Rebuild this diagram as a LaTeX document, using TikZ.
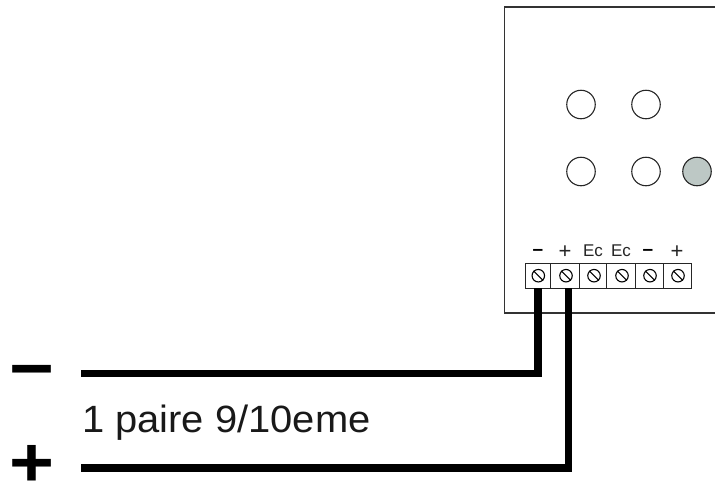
\documentclass[tikz,border=0pt]{standalone}
\usepackage{fontspec}
\setmainfont{Liberation Sans}
\tikzset{
  x=1pt,y=-1pt,
  lamp/.style={circle,draw=black!85,line width=1.1pt,minimum size=28.5pt,inner sep=0pt,fill=white},
  lit/.style={lamp,fill=lampgrey},
  screw/.style={circle,draw=black,line width=1.1pt,minimum size=12.5pt,inner sep=0pt},
  casing/.style={draw=black!80,line width=1.2pt},
  cell/.style={draw=black!85,line width=1pt},
  wire/.style={draw=black,line width=7.3pt,line cap=butt,line join=miter},
  termlabel/.style={inner sep=0pt,anchor=base,font=\fontsize{17}{17}\selectfont,text=black!85},
  termplus/.style={termlabel,font=\fontsize{22}{22}\selectfont},
  termminus/.style={termlabel,font=\fontsize{19}{19}\selectfont\bfseries,text=black},
  bigsign/.style={inner sep=0pt,anchor=base,font=\fontsize{70}{70}\selectfont\bfseries,xscale=1.1},
  caption/.style={inner sep=0pt,anchor=base west,font=\fontsize{38}{38}\selectfont,text=black!90,xscale=1.05}
}
\definecolor{lampgrey}{HTML}{BDC8C5}
\begin{document}
\begin{tikzpicture}
\useasboundingbox (0,0) rectangle (715,483);
\path[fill=white] (0,0) rectangle (715,483);
% casing
\draw[casing] (715,7) -- (504.5,7) -- (504.5,313) -- (715,313);
% lamps
\node[lamp] (l1) at (581,104.5) {};
\node[lamp] (l2) at (646,104.5) {};
\node[lamp] (l3) at (581,171.5) {};
\node[lamp] (l4) at (646,171.5) {};
\node[lit]  (l5) at (697,171.5) {};
% terminal strip
\draw[cell] (525,263.5) rectangle (691.7,288);
\foreach \xx in {550.7,579,606.7,635,663.3} \draw[cell] (\xx,263.5) -- (\xx,288);
\foreach \nm/\xx in {a/538.3,b/566,c/594,d/622,e/650,f/678}{
  \node[screw] (s\nm) at (\xx,275.7) {};
  \draw[line width=1.1pt] (s\nm.north west) -- (s\nm.south east);
}
% terminal labels
\node[termminus] (ta) at (538,255) {–};
\node[termplus] (tb) at (565,258) {+};
\node[termlabel] (tc) at (593,256.5) {Ec};
\node[termlabel] (td) at (621,256.5) {Ec};
\node[termminus] (te) at (648,255) {–};
\node[termplus] (tf) at (677,258) {+};
% wires
\coordinate (wa) at (538,288);
\coordinate (wb) at (568.3,288);
\coordinate (ea) at (81,373.7);
\coordinate (eb) at (81,468);
\draw[wire] (ea) -- (wa |- ea) -- (wa);
\draw[wire] (eb) -- (wb |- eb) -- (wb);
% big signs
\node[bigsign] (minus) at (31.5,392.7) {−};
\node[bigsign] (plus) at (31.5,486) {+};
% caption
\node[caption] (cap) at (82,432) {1 paire 9/10eme};
\end{tikzpicture}
\end{document}
